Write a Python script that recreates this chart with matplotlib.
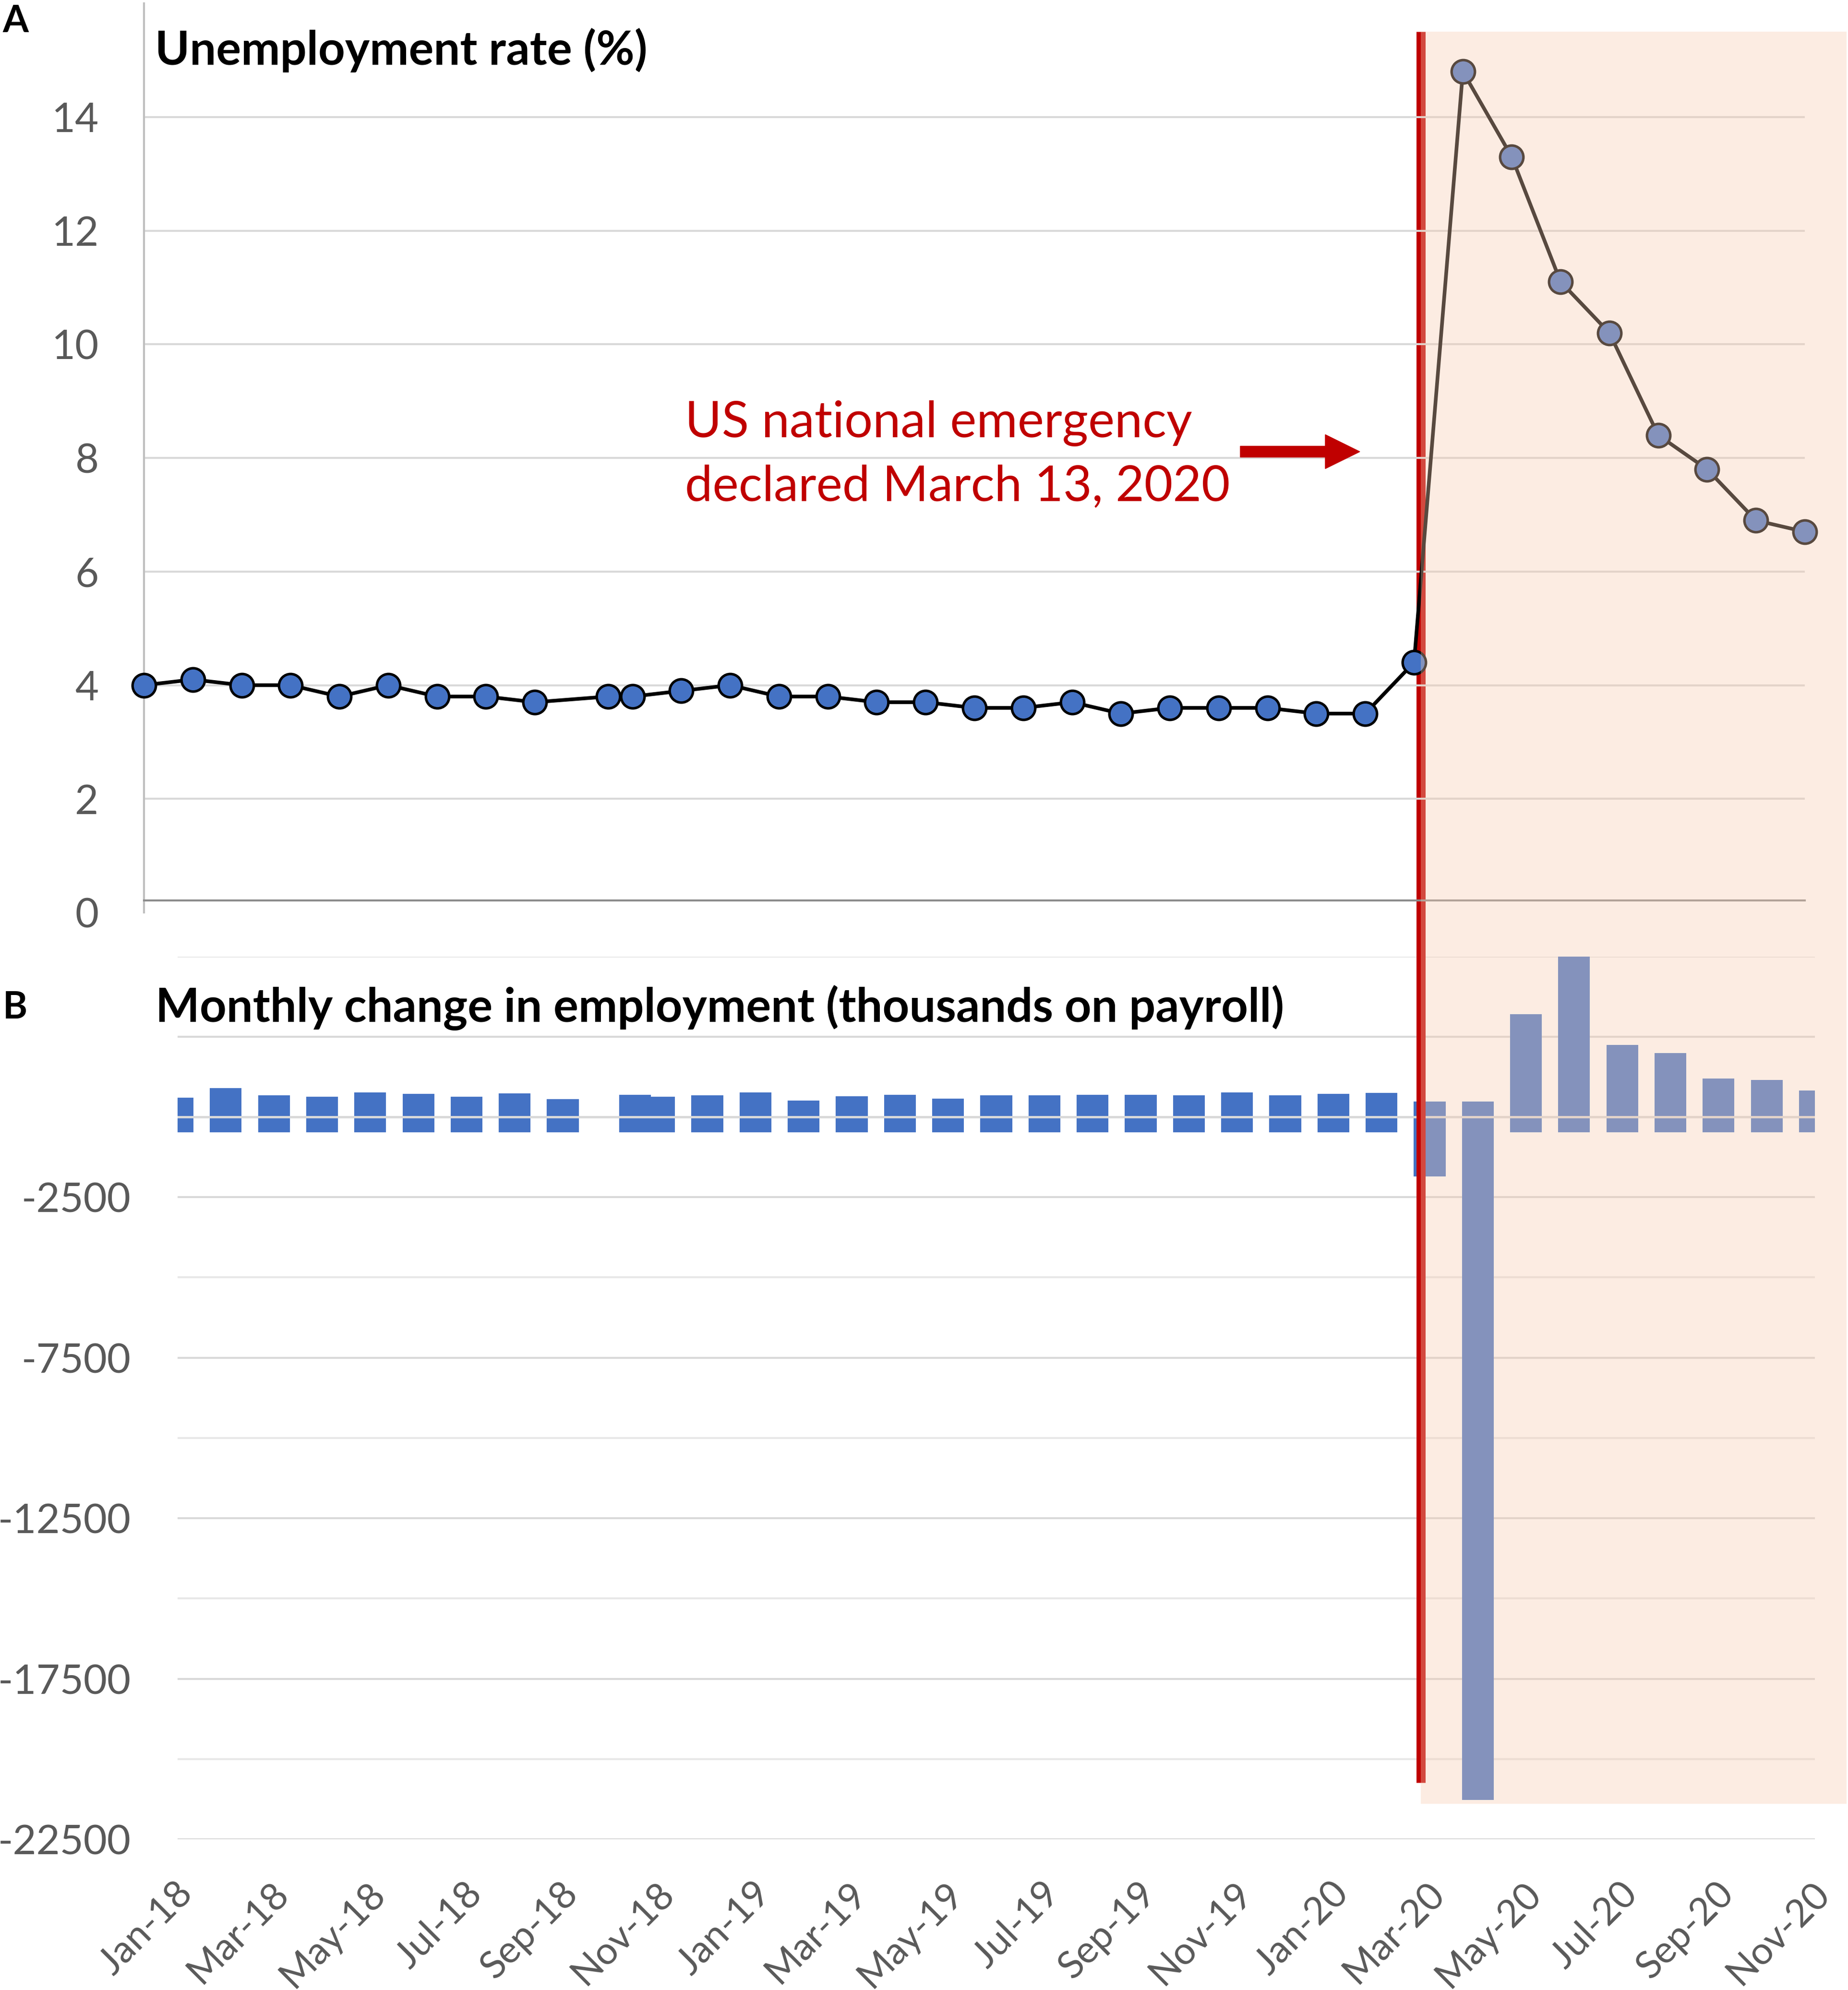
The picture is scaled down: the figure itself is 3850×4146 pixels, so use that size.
"""US unemployment rate and monthly payroll change, Jan 2018 - Nov 2020."""

import matplotlib
matplotlib.use("Agg")
import matplotlib.pyplot as plt
from matplotlib.lines import Line2D
from matplotlib.patches import FancyArrow, Rectangle
from matplotlib.transforms import ScaledTranslation

plt.rcParams["font.family"] = ["Lato", "DejaVu Sans"]
plt.rcParams["axes.unicode_minus"] = False

months = [
    "Jan-18", "Feb-18", "Mar-18", "Apr-18", "May-18", "Jun-18", "Jul-18", "Aug-18", "Sep-18",
    "Oct-18", "Nov-18", "Dec-18", "Jan-19", "Feb-19", "Mar-19", "Apr-19", "May-19", "Jun-19",
    "Jul-19", "Aug-19", "Sep-19", "Oct-19", "Nov-19", "Dec-19", "Jan-20", "Feb-20", "Mar-20",
    "Apr-20", "May-20", "Jun-20", "Jul-20", "Aug-20", "Sep-20", "Oct-20", "Nov-20",
]
# category positions; the source chart plots Oct-18 half a month late
month_pos = [float(i) for i in range(len(months))]
month_pos[9] = 9.5

unemployment = [
    4.0, 4.1, 4.0, 4.0, 3.8, 4.0, 3.8, 3.8, 3.7, 3.8, 3.8, 3.9,
    4.0, 3.8, 3.8, 3.7, 3.7, 3.6, 3.6, 3.7, 3.5, 3.6, 3.6, 3.6,
    3.5, 3.5, 4.4, 14.8, 13.3, 11.1, 10.2, 8.4, 7.8, 6.9, 6.7,
]

# visible top and bottom of each payroll bar (thousands)
bar_top = [
    603, 893, 673, 623, 767, 713, 623, 737, 553, 688, 628, 673,
    758, 503, 638, 688, 568, 673, 678, 688, 693, 678, 758, 673,
    718, 753, 478, 478, 3204, 5013, 2247, 1984, 1200, 1151, 827,
]
bar_bottom = [-478] * 26 + [-1854, -21275] + [-478] * 7

rate_ticks = [0, 2, 4, 6, 8, 10, 12, 14]
change_major = [-22500, -17500, -12500, -7500, -2500, 2500]
change_labels = ["-22500", "-17500", "-12500", "-7500", "-2500", ""]
change_minor = [-20000, -15000, -10000, -5000, 0, 5000]
label_months = list(range(0, len(months), 2))

W, H = 3850, 4146
BLUE = "#4472C4"
RED = "#C00000"
GREY_TXT = "#595959"


def fx(px):
    return px / W


def fy(py):
    return 1 - py / H


fig = plt.figure(figsize=(W / 100, H / 100), dpi=100)

# panel A: unemployment rate
ax_a = fig.add_axes([fx(300), fy(1901), (3760 - 300) / W, (1901 - 7) / H])
ax_a.set_zorder(2)
ax_a.patch.set_visible(False)
ax_a.set_xlim(0, 34)
ax_a.set_ylim(0, 16)
ax_a.set_yticks(rate_ticks)
ax_a.set_xticks([])
ax_a.yaxis.grid(True, color="#D9D9D9", lw=3)
ax_a.get_ygridlines()[0].set_visible(False)
ax_a.tick_params(axis="y", length=0, pad=68, labelsize=61, labelcolor=GREY_TXT)
for side in ("top", "right"):
    ax_a.spines[side].set_visible(False)
ax_a.spines["left"].set_color("#BFBFBF")
ax_a.spines["left"].set_linewidth(3)
ax_a.spines["bottom"].set_position(("data", 0.21))
ax_a.spines["bottom"].set_color("#8C8C8C")
ax_a.spines["bottom"].set_linewidth(3)
ax_a.plot(month_pos, unemployment, color="black", lw=5.5, marker="o", ms=35,
          mfc=BLUE, mec="black", mew=3.8, zorder=3, clip_on=False)

# panel B: monthly change in payroll employment
ax_b = fig.add_axes([fx(370), fy(3832), (3781 - 370) / W, (3832 - 1992.6) / H])
ax_b.set_zorder(0)
ax_b.set_xlim(0, 34)
ax_b.set_ylim(-22500, 5000)
ax_b.set_axisbelow(True)
ax_b.set_yticks(change_major)
ax_b.set_yticklabels(change_labels)
ax_b.set_yticks(change_minor, minor=True)
ax_b.yaxis.grid(True, which="major", color="#D9D9D9", lw=3)
ax_b.yaxis.grid(True, which="minor", color="#E8E8E8", lw=3)
ax_b.tick_params(axis="y", which="both", length=0, pad=70, labelsize=61, labelcolor=GREY_TXT)
ax_b.set_xticks(label_months)
ax_b.set_xticklabels([months[i] for i in label_months], rotation=45, ha="right",
                     rotation_mode="anchor")
ax_b.tick_params(axis="x", length=0, pad=55, labelsize=57, labelcolor=GREY_TXT)
shift = ScaledTranslation(-0.06, 0, fig.dpi_scale_trans)
for label in ax_b.get_xticklabels():
    label.set_transform(label.get_transform() + shift)
for spine in ax_b.spines.values():
    spine.set_visible(False)
heights = [t - b for t, b in zip(bar_top, bar_bottom)]
ax_b.bar(month_pos, heights, bottom=bar_bottom, width=0.66, color=BLUE, zorder=2)
ax_b.axhline(0, color="#D9D9D9", lw=3.5, zorder=3)

# emergency marker and shaded pandemic period
fig.add_artist(Line2D([fx(2959.5)] * 2, [fy(66), fy(3714)], transform=fig.transFigure,
                      color=RED, lw=13.7, solid_capstyle="butt", zorder=1))
fig.add_artist(Rectangle((fx(2960), fy(3758)), (3847 - 2960) / W, (3758 - 66) / H,
                         transform=fig.transFigure, facecolor="#F7CBAF", alpha=0.36,
                         edgecolor="none", zorder=3))
fig.add_artist(FancyArrow(fx(2584), fy(941), (2833 - 2584) / W, 0, width=23 / H,
                          head_width=71 / H, head_length=72 / W, length_includes_head=True,
                          color=RED, transform=fig.transFigure, zorder=4))

fig.text(fx(1427), fy(911), "US national emergency", color=RED, fontsize=75, va="baseline")
fig.text(fx(1427), fy(1043), "declared March 13, 2020", color=RED, fontsize=74, va="baseline")

fig.text(fx(5), fy(67), "A", fontsize=56, fontweight="bold", va="baseline")
fig.text(fx(6), fy(2122), "B", fontsize=56, fontweight="bold", va="baseline")
fig.text(fx(323), fy(135), "Unemployment rate (%)", fontsize=70, fontweight="bold",
         va="baseline")
fig.text(fx(324), fy(2129), "Monthly change in employment (thousands on payroll)",
         fontsize=70, fontweight="bold", va="baseline")

fig.savefig("out.png", dpi=100, facecolor="white")
plt.close(fig)
